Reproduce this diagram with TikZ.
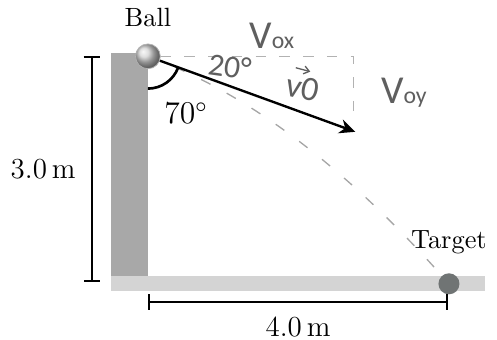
\documentclass[tikz,border=0pt]{standalone}
\usepackage{fontspec}
\newfontfamily\handfont{Carlito}
\usetikzlibrary{arrows.meta,positioning,calc}
\definecolor{wallgray}{RGB}{168,168,168}
\definecolor{groundgray}{RGB}{212,212,212}
\definecolor{targetgray}{RGB}{112,116,116}
\definecolor{inkgray}{RGB}{95,95,95}

\begin{document}
\begin{tikzpicture}[
  every node/.style={font=\normalsize},
  dimline/.style={{Bar[width=6pt]}-{Bar[width=6pt]}, line width=0.7pt},
  dimlabel/.style={font=\fontsize{11}{13}\selectfont},
  traj/.style={draw=gray!70, line width=0.5pt, dash pattern=on 4pt off 7pt},
  hand/.style={text=inkgray, font=\handfont, inner sep=1pt},
  handdash/.style={draw=gray!60, line width=0.45pt, dash pattern=on 4pt off 5pt}
]
  \useasboundingbox (-1.97,-0.77) rectangle (4.65,3.75);

  % Ground strip and wall (1 unit = 1 m)
  \fill[groundgray] (-0.49,-0.13) rectangle (4.49,0.08);
  \fill[wallgray] (-0.49,0.08) rectangle (0,3.04);

  % Launch point, landing point and arrow tip
  \coordinate (launch) at (0,3.0);
  \coordinate (hit) at (4.01,-0.03);
  \coordinate (tip) at ($(launch)+(-20:2.94)$);
  \coordinate (corner) at (2.74,3.0);

  % Trajectory (parabola, launched 20 deg below horizontal)
  \draw[traj] (launch) .. controls (1.34,2.51) and (2.67,1.50) .. (hit);

  % Ball and target
  \node[circle, minimum size=0.33cm, inner sep=0pt, ball color=gray!35, draw=gray!60, line width=0.3pt] (ball) at (launch) {};
  \node[circle, minimum size=0.28cm, inner sep=0pt, fill=targetgray] (target) at (hit) {};
  \node[above=3pt of ball] (balllabel) {Ball};
  \node[above=3.5pt of target] (targetlabel) {Target};

  % Handwritten components
  \draw[handdash] (ball) -- (corner) -- ++(0,-0.88);
  \node[hand] (vox) at (1.65,3.27) {\fontsize{15}{15}\selectfont V{\fontsize{9}{9}\selectfont ox}};
  \node[hand] (voy) at (3.41,2.52) {\fontsize{15}{15}\selectfont V{\fontsize{9}{9}\selectfont oy}};
  \node[hand, rotate=-8] (twenty) at (1.09,2.86) {\fontsize{12}{12}\selectfont 20°};
  \node[hand, rotate=-12] (vnot) at (2.06,2.58) {\fontsize{13}{13}\selectfont v0};
  \draw[inkgray, line width=0.5pt, -{Straight Barb[length=2pt, width=3pt]}] ($(vnot.north)+(-0.13,0.08)$) -- ++(-15:0.2);

  % Launch velocity and angle from the wall
  \draw[line width=1pt] ($(launch)+(-90:0.43)$) arc[start angle=-90, end angle=-20, radius=0.43];
  \draw[-{Stealth[length=6pt, width=5.5pt]}, line width=0.9pt] (ball) -- (tip);
  \node[font=\fontsize{12}{14}\selectfont] (angle) at (0.51,2.24) {70$^\circ$};

  % Dimensions
  \draw[dimline] (-0.75,0) -- node[left=2.4pt, dimlabel] (height) {3.0\,m} (-0.75,3.0);
  \draw[dimline] (0,-0.27) -- node[below=2pt, dimlabel] (width) {4.0\,m} (4.0,-0.27);

\end{tikzpicture}
\end{document}
